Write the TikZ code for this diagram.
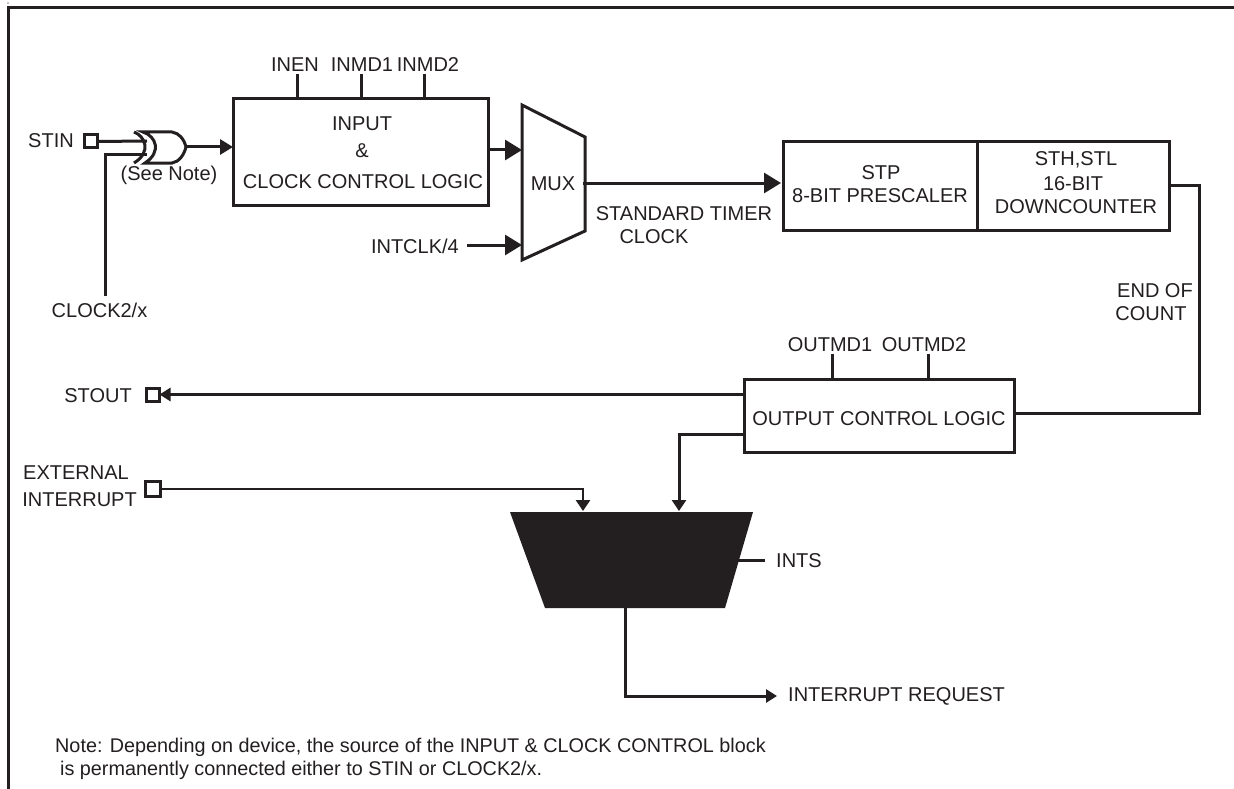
\documentclass[tikz,border=0pt]{standalone}
\usepackage{fontspec}
\setmainfont{Liberation Sans}
\usetikzlibrary{arrows.meta,calc}
\definecolor{ink}{HTML}{231F20}
\tikzset{
  lbl/.style={inner sep=0pt,text=ink,font=\fontsize{20}{24}\selectfont,align=center},
  notetext/.style={inner sep=0pt,text=ink,font=\fontsize{19.8}{24}\selectfont,anchor=west},
  wire/.style={draw=ink,line width=3pt},
  thin wire/.style={draw=ink,line width=2.6pt},
  bigarrow/.style={wire,-{Triangle[length=17pt,width=20pt]}},
  midarrow/.style={wire,-{Triangle[length=13pt,width=15pt]}},
  smallarrow/.style={wire,-{Triangle[length=11pt,width=13pt]}},
  blockbox/.style={draw=ink,line width=3pt,inner sep=0pt,outer sep=0pt,anchor=north west},
  pinbox/.style={draw=ink,line width=3pt,fill=white,minimum size=13pt,inner sep=0pt,outer sep=0pt}
}
\begin{document}
\begin{tikzpicture}[x=1pt,y=-1pt]
\useasboundingbox (0,0) rectangle (1234,789);
\fill[white] (0,0) rectangle (1234,789);
% frame
\draw[draw=ink,line width=3pt] (8,789) -- (8,8) -- (1234,8);
\node[inner sep=0pt,text=gray,font=\fontsize{4}{4}\selectfont] at (8,3) {a};

% pins
\node[pinbox] (stin) at (90.5,141.5) {};
\node[pinbox] (stout) at (153,394.5) {};
\node[pinbox,minimum size=15pt] (ext) at (152.5,489) {};

% blocks
\node[blockbox,minimum width=255pt,minimum height=106pt] (input) at (233,99) {};
\node[lbl] at (362,124) {INPUT};
\node[lbl] at (362,151) {\&};
\node[lbl] at (363,182) {CLOCK CONTROL LOGIC};
\node[blockbox,minimum width=194pt,minimum height=88pt] (stp) at (783,142) {};
\node[lbl] at (881,173) {STP};
\node[lbl] at (880,196) {8-BIT PRESCALER};
\node[blockbox,minimum width=192pt,minimum height=88pt] (sth) at (977,142) {};
\node[lbl] at (1076,160) {STH,STL};
\node[lbl] at (1073,184) {16-BIT};
\node[lbl] at (1076,207) {DOWNCOUNTER};
\node[blockbox,minimum width=270pt,minimum height=73pt] (out) at (744,379) {};
\node[lbl] at (879,419) {OUTPUT CONTROL LOGIC};

% mux
\draw[wire,line join=miter,fill=white] (522,105) -- (585,137) -- (585,231) -- (522,260) -- cycle;
\node[lbl] at (553,184) {MUX};
\coordinate (muxa) at (522,150);
\coordinate (muxb) at (522,245);
\coordinate (muxo) at (583,183);

% INTS block
\fill[ink] (510,512) -- (753,512) -- (725,608) -- (545,608) -- cycle;
\coordinate (ia) at (583,511);
\coordinate (ib) at (679,511);
\coordinate (io) at (738,560);
\coordinate (ib2) at (625,608);

% xor gate
\draw[draw=ink,line width=3pt] (134,132) .. controls (145,136) and (152,152) .. (134,163);
\draw[draw=ink,line width=3pt] (143,132) .. controls (156,136) and (162,152) .. (145,163)
  -- (172,163) .. controls (179,162) and (184,155) .. (186,147)
  .. controls (184,139) and (179,133) .. (172,132) -- cycle;
\coordinate (xa) at (147,141);
\coordinate (xb) at (147,155);
\coordinate (xo) at (186,147);
\coordinate (ck) at (105,296);

% top pins
\coordinate (p1) at (297,74);
\coordinate (p2) at (361,74);
\coordinate (p3) at (424,74);
\coordinate (p4) at (832,354);
\coordinate (p5) at (928,354);
\draw[wire] (p1) -- (p1 |- input.north);
\draw[wire] (p2) -- (p2 |- input.north);
\draw[wire] (p3) -- (p3 |- input.north);
\draw[wire] (p4) -- (p4 |- out.north);
\draw[wire] (p5) -- (p5 |- out.north);

% connectors
\draw[wire] (stin.east) -- (xa);
\draw[wire] (ck) -- (ck |- xb) -- (xb);
\draw[midarrow] (xo) -- (xo -| input.west);
\draw[bigarrow] (input.east |- muxa) -- (muxa);
\coordinate (ic) at (467,245);
\draw[bigarrow] (ic) -- (muxb);
\coordinate (stpin) at ($(stp.west |- muxo)+(-2,0)$);
\draw[bigarrow] (muxo) -- (stpin);
\coordinate (corner) at (1199.5,185);
\draw[wire] (sth.east |- corner) -- (corner) |- (out.east |- 0,413);
\draw[smallarrow] (out.west |- stout) -- (stout.east);
\draw[thin wire,-{Triangle[length=11pt,width=14pt]}] (ext.east) -| (ia);
\draw[wire,-{Triangle[length=11pt,width=14pt]}] (out.west |- 0,434) -| (ib);
\draw[wire] (io) -- ++(27,0);
\coordinate (ir) at (777,696);
\draw[wire,-{Triangle[length=11pt,width=13pt]}] (ib2) |- (ir);

% labels
\node[lbl,anchor=east] at (74,141) {STIN};
\node[lbl] at (169,175) {(See Note)};
\node[lbl] at (99.5,310) {CLOCK2/x};
\node[lbl] at (295,65) {INEN};
\node[lbl] at (362,65) {INMD1};
\node[lbl] at (428,65) {INMD2};
\node[lbl,anchor=east] at (459,246) {INTCLK/4};
\node[lbl] at (684,214) {STANDARD TIMER};
\node[lbl] at (654,237) {CLOCK};
\node[lbl] at (1155,291) {END OF};
\node[lbl] at (1151,314) {COUNT};
\node[lbl] at (830,345) {OUTMD1};
\node[lbl] at (924,345) {OUTMD2};
\node[lbl,anchor=east] at (132,396) {STOUT};
\node[lbl,anchor=east] at (129,473) {EXTERNAL};
\node[lbl,anchor=east] at (137,500) {INTERRUPT};
\node[lbl,anchor=west] at (776,561) {INTS};
\node[lbl,anchor=west] at (788,696) {INTERRUPT REQUEST};
\node[notetext] at (55,747) {Note: Depending on device, the source of the INPUT \& CLOCK CONTROL block};
\node[notetext] at (60,770) {is permanently connected either to STIN or CLOCK2/x.};
\end{tikzpicture}
\end{document}
